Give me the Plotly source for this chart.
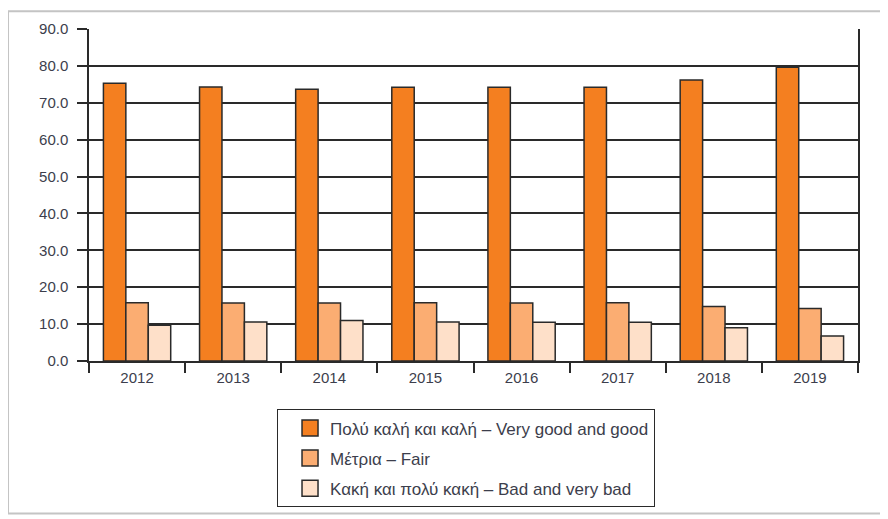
import plotly.graph_objects as go

years = ["2012", "2013", "2014", "2015", "2016", "2017", "2018", "2019"]
very_good = [75.3, 74.3, 73.7, 74.2, 74.2, 74.2, 76.2, 79.6]
fair = [15.8, 15.7, 15.7, 15.8, 15.7, 15.8, 14.8, 14.2]
bad = [9.7, 10.6, 11.0, 10.6, 10.5, 10.5, 9.0, 6.8]
series_names = [
    "Πολύ καλή και καλή – Very good and good",
    "Μέτρια – Fair",
    "Κακή και πολύ κακή – Bad and very bad",
]
colors = ["#F47F20", "#FBAD72", "#FEE0C9"]
y_ticks = [0, 10, 20, 30, 40, 50, 60, 70, 80, 90]

fig = go.Figure()
for vals, name, col in zip([very_good, fair, bad], series_names, colors):
    fig.add_trace(go.Bar(
        x=years, y=vals, name=name, showlegend=False,
        marker=dict(color=col, line=dict(color="#2a2a2a", width=1.5)),
    ))
for name, col in zip(series_names, colors):
    fig.add_trace(go.Scatter(
        x=[None], y=[None], mode="markers", name=name, legendgroup=name,
        marker=dict(symbol="square", size=20, color=col,
                    line=dict(color="#2a2a2a", width=1.5)),
    ))

fam = "Liberation Sans, Arial, sans-serif"
fig.update_layout(
    width=888, height=519,
    margin=dict(l=81, r=38, t=18, b=166),
    paper_bgcolor="white", plot_bgcolor="white",
    font=dict(family=fam, size=15, color="#3c3e4c"),
    barmode="group", bargap=0.30, bargroupgap=0,
    showlegend=True,
    legend=dict(
        x=0.2445, y=-0.146, xanchor="left", yanchor="top",
        bordercolor="#2a2a2a", borderwidth=1, bgcolor="white",
        font=dict(family=fam, size=17, color="#3c3e4c"),
        tracegroupgap=5, itemsizing="trace", indentation=12,
    ),
    xaxis=dict(
        type="category", tickson="boundaries", ticks="outside", ticklen=10,
        tickcolor="#2a2a2a", tickwidth=1.5, showline=True, linecolor="#2a2a2a",
        linewidth=1.5, showgrid=False, ticklabelstandoff=2,
    ),
    yaxis=dict(
        range=[0, 90], tickvals=y_ticks, tickformat=".1f", ticks="outside",
        ticklen=10, tickcolor="#2a2a2a", tickwidth=1.5, ticklabelstandoff=6,
        showline=True, linecolor="#2a2a2a", linewidth=1.5, mirror=True,
        showgrid=True, gridcolor="#2a2a2a", gridwidth=1.5, zeroline=False,
    ),
    shapes=[dict(
        type="rect", xref="paper", yref="paper",
        x0=-0.1053, x1=1.0338, y0=-0.4597, y1=1.0537,
        line=dict(color="#c4c4c4", width=2), layer="below",
    )],
)
fig.write_html("out.html")
